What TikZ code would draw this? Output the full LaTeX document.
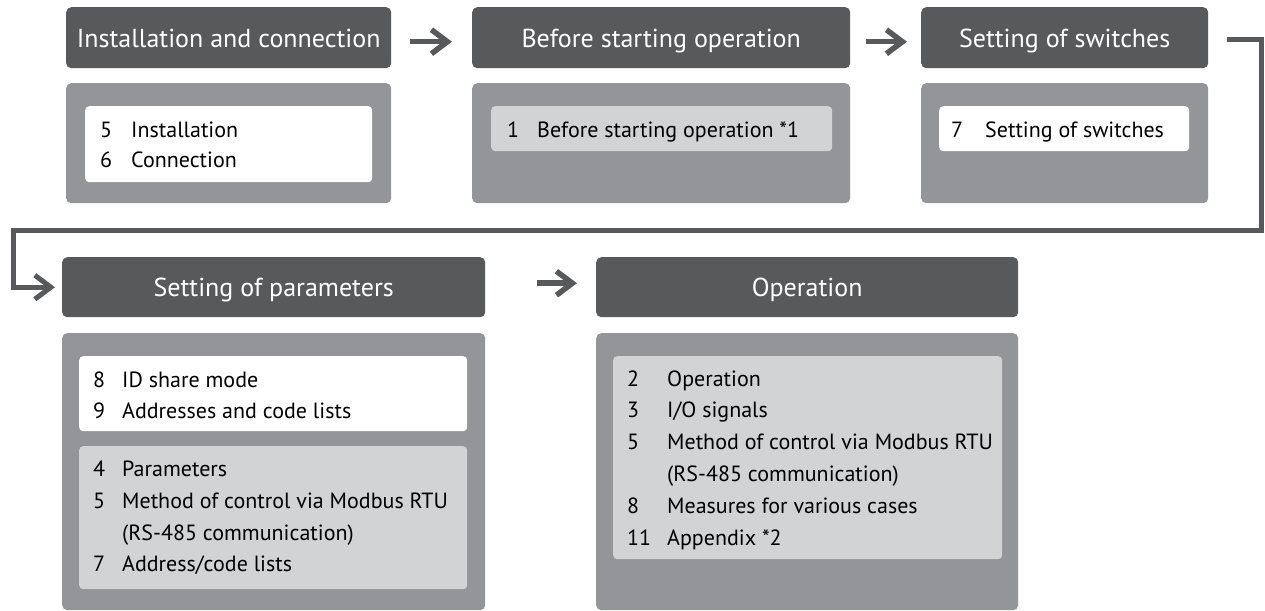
\documentclass[tikz,border=0pt]{standalone}
\usepackage{fontspec}
\setmainfont{PT Sans}
\usetikzlibrary{arrows.meta}
\definecolor{hdrgray}{HTML}{58595B}
\definecolor{bodygray}{HTML}{939598}
\definecolor{litegray}{HTML}{D1D3D4}
\begin{document}
\begin{tikzpicture}[x=1pt,y=-1pt,
  hdr/.style={fill=hdrgray, rounded corners=5pt, text=white, inner sep=0pt, anchor=north west,
    font=\fontsize{26}{30}\selectfont, text height=19pt, text depth=0pt},
  bodybox/.style={fill=bodygray, rounded corners=5pt, inner sep=0pt, anchor=north west},
  whitebox/.style={fill=white, rounded corners=4pt, inner sep=0pt, anchor=north west},
  litebox/.style={fill=litegray, rounded corners=4pt, inner sep=0pt, anchor=north west},
  item/.style={anchor=base west, inner sep=0pt, text=black, font=\fontsize{22}{26}\selectfont},
  arr/.style={draw=hdrgray, line width=5.5pt, -{Straight Barb[length=16pt,width=24pt,line join=miter]}},
  conn/.style={draw=hdrgray, line width=5pt, line join=miter, -{Straight Barb[length=16pt,width=24pt,line join=miter]}}
]
\useasboundingbox (0,0) rectangle (1265,610);

% top row
\node[hdr, minimum width=325pt, minimum height=61pt] (h1) at (66,7) {Installation and connection};
\node[bodybox, minimum width=325pt, minimum height=120pt] (b1) at (66,83) {};
\node[whitebox, minimum width=287pt, minimum height=76pt] (w1) at (85,106) {};
\node[item] (t1a) at (100,137) {\makebox[31pt][l]{5}Installation};
\node[item] (t1b) at (100,167) {\makebox[31pt][l]{6}Connection};

\node[hdr, minimum width=378pt, minimum height=61pt] (h2) at (472,7) {Before starting operation};
\node[bodybox, minimum width=378pt, minimum height=120pt] (b2) at (472,83) {};
\node[litebox, minimum width=341pt, minimum height=45pt] (g2) at (491,106) {};
\node[item] (t2a) at (507,137) {\makebox[30pt][l]{1}Before starting operation *1};

\node[hdr, minimum width=287pt, minimum height=61pt] (h3) at (921,7) {Setting of switches};
\node[bodybox, minimum width=287pt, minimum height=120pt] (b3) at (921,83) {};
\node[whitebox, minimum width=250pt, minimum height=45pt] (w3) at (939,106) {};
\node[item] (t3a) at (951,137) {\makebox[34pt][l]{7}Setting of switches};

% bottom row
\node[hdr, minimum width=423pt, minimum height=60pt] (h4) at (62,257) {Setting of parameters};
\node[bodybox, minimum width=423pt, minimum height=277pt] (b4) at (62,333) {};
\node[whitebox, minimum width=388pt, minimum height=75pt] (w4) at (79,356) {};
\node[litebox, minimum width=388pt, minimum height=143pt] (g4) at (79,446) {};
\node[item] (t4a) at (93,387) {\makebox[29pt][l]{8}ID share mode};
\node[item] (t4b) at (93,418) {\makebox[29pt][l]{9}Addresses and code lists};
\node[item] (t4c) at (93,476) {\makebox[29pt][l]{4}Parameters};
\node[item] (t4d) at (93,508) {\makebox[29pt][l]{5}Method of control via Modbus RTU};
\node[item] (t4e) at (122,540) {(RS-485 communication)};
\node[item] (t4f) at (93,571) {\makebox[29pt][l]{7}Address/code lists};

\node[hdr, minimum width=422pt, minimum height=60pt] (h5) at (596,257) {Operation};
\node[bodybox, minimum width=422pt, minimum height=277pt] (b5) at (596,333) {};
\node[litebox, minimum width=389pt, minimum height=203pt] (g5) at (613,356) {};
\node[item] (t5a) at (627,386) {\makebox[40pt][l]{2}Operation};
\node[item] (t5b) at (627,417) {\makebox[40pt][l]{3}I/O signals};
\node[item] (t5c) at (627,449) {\makebox[40pt][l]{5}Method of control via Modbus RTU};
\node[item] (t5d) at (667,481) {(RS-485 communication)};
\node[item] (t5e) at (627,513) {\makebox[40pt][l]{8}Measures for various cases};
\node[item] (t5f) at (627,545) {\makebox[40pt][l]{11}Appendix *2};

% connectors
\draw[arr, shorten <=19pt, shorten >=20pt] ([yshift=-4pt]h1.east) -- ([yshift=-4pt]h2.west);
\draw[arr, shorten <=16pt, shorten >=14pt] ([yshift=-4pt]h2.east) -- ([yshift=-4pt]h3.west);
\draw[arr, shorten <=52pt, shorten >=19pt] ([yshift=4pt]h4.east) -- ([yshift=4pt]h5.west);
\coordinate (c1) at (1261,230);
\coordinate (c2) at (13,230);
\draw[conn, shorten >=7pt] ([xshift=19pt,yshift=-1.5pt]h3.east) -| (c1) -- (c2) |- (h4.west);
\end{tikzpicture}
\end{document}
